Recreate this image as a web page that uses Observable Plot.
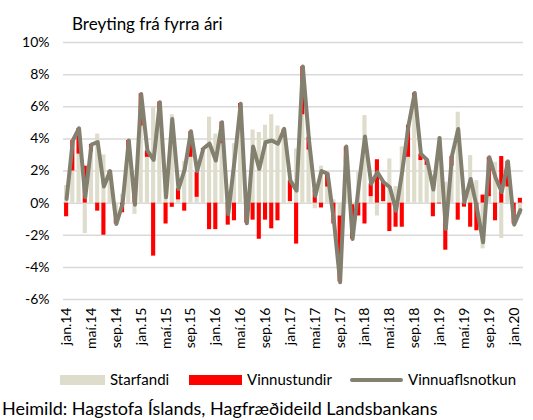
<!DOCTYPE html>
<html><head><meta charset="utf-8">
<script src="https://cdn.jsdelivr.net/npm/d3@7"></script>
<script src="https://cdn.jsdelivr.net/npm/@observablehq/plot@0.6"></script>
<style>
body{margin:0;background:#fff;font-family:Lato,sans-serif;color:#000;}
#wrap{position:relative;width:533px;height:420px;overflow:hidden;}
#chart{position:absolute;left:0;top:0;}
.t{position:absolute;white-space:nowrap;line-height:1;}
.sw{position:absolute;}
</style></head><body>
<div id="wrap">
  <div id="chart"></div>
  <div class="t" id="sub" style="left:72px;top:15px;font-size:17px;">Breyting frá fyrra ári</div>
  <div class="sw" style="left:60px;top:375px;width:45px;height:10px;background:#DEDCCB"></div>
  <div class="t" style="left:110px;top:372px;font-size:15px;">Starfandi</div>
  <div class="sw" style="left:189px;top:375px;width:53px;height:10px;background:#FF0000"></div>
  <div class="t" style="left:247px;top:372px;font-size:15px;">Vinnustundir</div>
  <div class="sw" style="left:350px;top:378px;width:53px;height:4px;background:#83806F;border-radius:2px"></div>
  <div class="t" style="left:408px;top:372px;font-size:15px;">Vinnuaflsnotkun</div>
  <div class="t" style="left:2px;top:399px;font-size:18px;">Heimild: Hagstofa Íslands, Hagfræðideild Landsbankans</div>
</div>
<script>
const tickLabels = ["jan.14","maí.14","sep.14","jan.15","maí.15","sep.15","jan.16","maí.16","sep.16","jan.17","maí.17","sep.17","jan.18","maí.18","sep.18","jan.19","maí.19","sep.19","jan.20"];
const yTicks = [-6,-4,-2,0,2,4,6,8,10];
const starfandi = [1.1,2.0,3.05,-1.9,3.2,4.3,3.0,1.7,-1.0,0.55,2.95,-0.7,
  4.8,2.85,6.0,5.7,1.65,5.5,0.2,2.6,2.85,0.36,3.3,5.35,
  4.3,3.7,0.7,3.7,5.9,0.0,4.55,4.4,4.85,5.5,4.8,4.1,
  0.1,3.37,5.5,3.3,-0.35,2.3,1.0,0.2,-0.8,2.5,-0.1,1.9,
  5.45,0.4,-0.8,0.1,2.75,1.03,3.5,2.85,6.0,2.65,2.35,1.7,
  4.1,1.3,2.3,5.66,0.3,2.96,1.4,-2.85,0.4,2.54,-2.2,1.0,
  0.0,-0.73];
const vinnustundir = [-0.85,1.9,1.6,2.3,0.45,-0.5,-2.0,0.3,-0.3,-0.6,0.95,0.6,
  2.0,0.4,-3.3,0.6,-1.3,-0.26,0.7,-0.5,1.6,1.55,0.1,-1.65,
  -1.65,1.35,-1.37,-1.1,0.3,-1.25,-1.06,-2.25,-1.06,-1.6,-1.1,0.5,
  1.3,-2.55,3.0,0.8,0.8,-0.3,0.8,-1.3,-4.1,1.0,-2.14,-0.8,
  -1.3,0.8,2.7,1.2,-1.77,-1.5,-1.5,2.0,0.85,0.4,0.35,-0.85,
  -0.05,-2.93,0.6,-1.06,-0.25,-1.5,-1.72,0.5,2.45,-1.1,2.9,1.6,
  -1.3,0.3];
const vinnuaflsnotkun = [0.26,3.9,4.66,0.36,3.65,3.8,1.03,2.0,-1.3,-0.05,3.9,-0.1,
  6.8,3.27,2.69,6.28,0.36,5.24,0.88,2.1,4.47,2.0,3.4,3.7,
  2.65,5.03,-0.68,2.6,6.18,-1.26,3.52,2.13,3.79,3.9,3.7,4.62,
  1.4,0.78,8.5,3.9,0.45,2.0,1.82,-1.1,-4.93,3.52,-2.23,1.1,
  4.15,1.2,1.92,1.3,0.99,-0.47,2.0,4.83,6.86,3.06,2.69,0.85,
  4.06,-1.6,2.96,4.62,0.05,1.5,-0.3,-2.44,2.86,1.6,0.7,2.6,
  -1.34,-0.43];

const months = d3.range(starfandi.length);
const bars = [
  ...months.map(i => ({i, v: starfandi[i], s: "Starfandi"})),
  ...months.map(i => ({i, v: vinnustundir[i], s: "Vinnustundir"}))
];
const line = months.map(i => ({i, v: vinnuaflsnotkun[i]}));

const chart = Plot.plot({
  width: 533, height: 365,
  marginTop: 42, marginBottom: 66, marginLeft: 63, marginRight: 10,
  style: {fontFamily: "Lato, sans-serif", fontSize: "14px", color: "#000", background: "transparent"},
  x: {domain: [-0.5, months.length - 0.5], ticks: tickLabels.map((_, k) => k * 4),
      tickFormat: i => tickLabels[i / 4], tickRotate: -90, tickSize: 0, tickPadding: 8, label: null},
  y: {domain: [-6, 10], ticks: yTicks, tickFormat: d => d + "%", tickSize: 0, tickPadding: 14, label: null},
  color: {domain: ["Starfandi", "Vinnustundir"], range: ["#DEDCCB", "#FF0000"]},
  marks: [
    Plot.ruleY(yTicks, {stroke: "#D9D9D9", strokeWidth: 1.5}),
    Plot.rectY(bars, {x1: d => d.i - 0.33, x2: d => d.i + 0.33, y: "v", fill: "s"}),
    Plot.lineY(line, {x: "i", y: "v", stroke: "#83806F", strokeWidth: 4, strokeLinejoin: "round", strokeLinecap: "round"})
  ]
});
document.getElementById("chart").appendChild(chart);
</script>
</body></html>
